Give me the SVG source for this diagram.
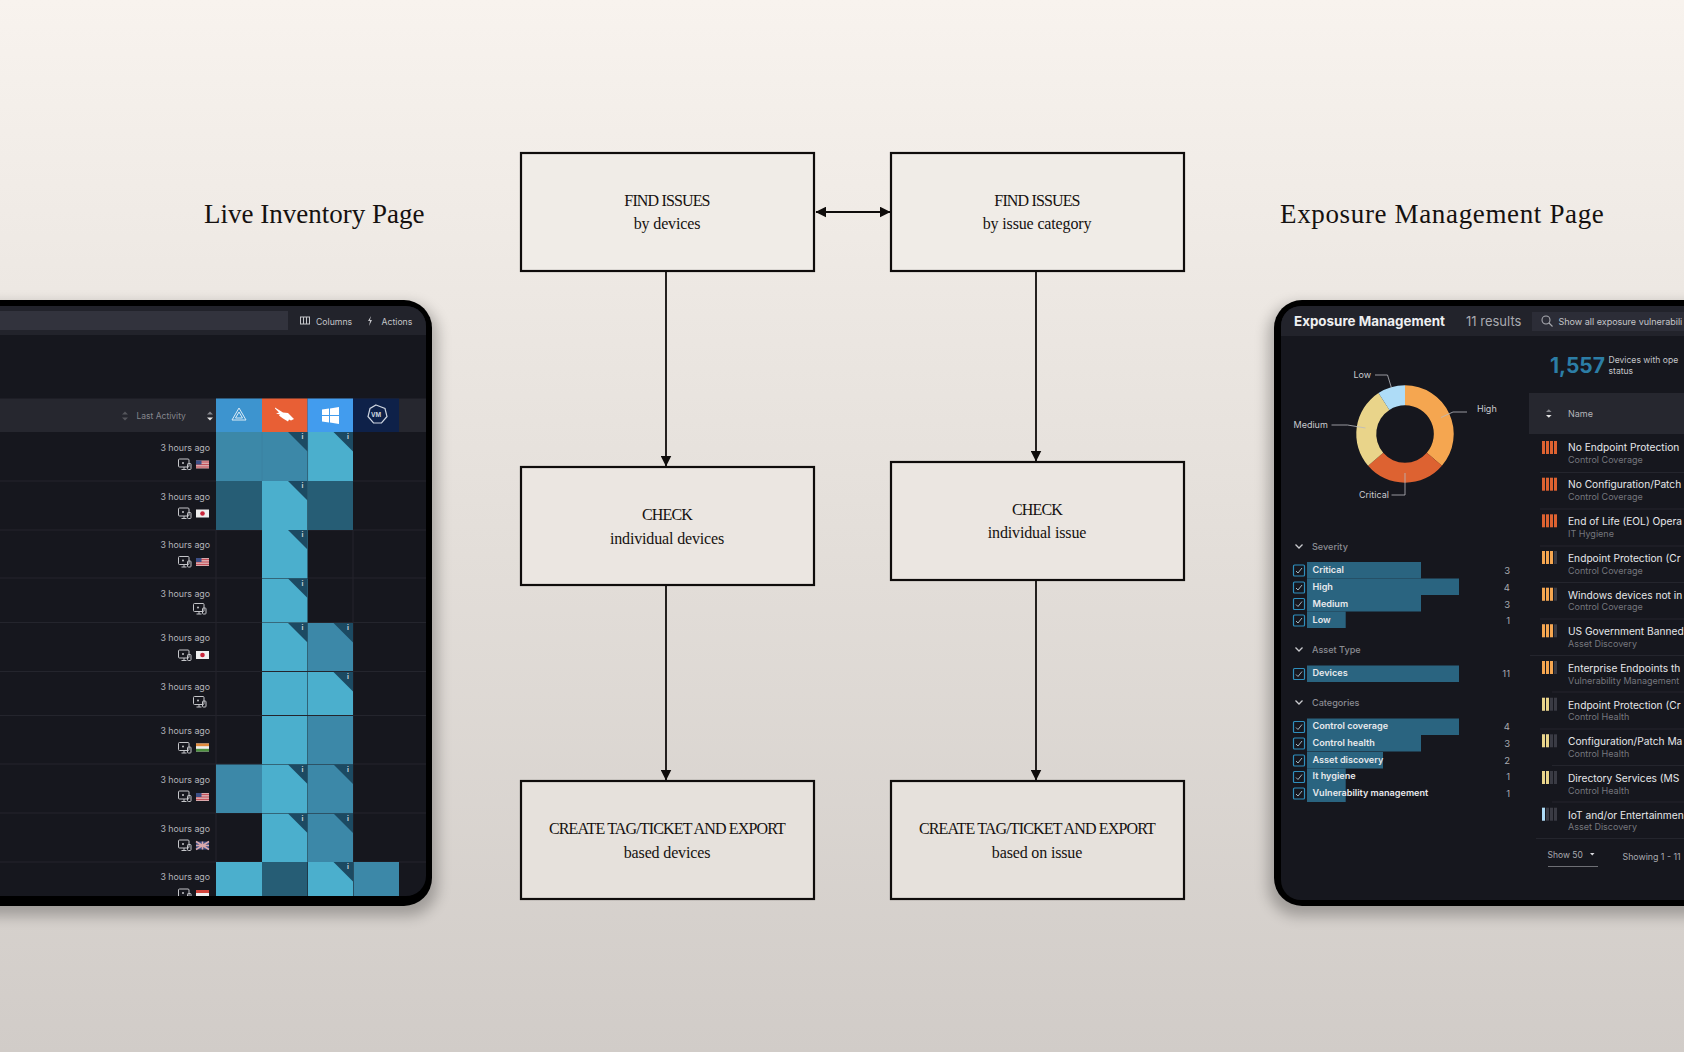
<svg xmlns="http://www.w3.org/2000/svg" width="1684" height="1052" viewBox="0 0 1684 1052">
<style>
.s{font-family:"Liberation Serif",serif;fill:#15110f}
.h{font-size:27px}
.b{font-size:16px;text-anchor:middle}
.c{letter-spacing:-.85px}
.lc{letter-spacing:-.15px}
.box{stroke:#0f0c0b;stroke-width:2.2}
.ln{stroke:#0f0c0b;stroke-width:1.8;fill:none}
.u{font-family:Inter,"Liberation Sans",sans-serif}
.ago{font-size:8.800px;fill:#b4b5ba;text-anchor:end}
.l{fill:#4bafcd}.m{fill:#3c88a8}.d{fill:#265d75}
.tag{fill:#1c4a62}
.i{font-size:7px;font-weight:700;fill:#c9d3d9;text-anchor:middle}
.sep{stroke:#24252d;stroke-width:1}
.cs{stroke:#3a7f9c;stroke-width:.8;opacity:.7}
.fh{font-size:9.100px;fill:#8b8c92;font-weight:500}
.ft{font-size:9.100px;fill:#e8e9ec;font-weight:600}
.fn{font-size:9.500px;fill:#a9aab0;text-anchor:end}
.bar{fill:#2a6480}
.cb{fill:none;stroke:#2f8fbd;stroke-width:1.2}
.ck{fill:none;stroke:#9fb7c4;stroke-width:1}
.t1{font-size:10.200px;fill:#e6e7ea;font-weight:400}
.t2{font-size:9px;fill:#75767d}
.lab{font-size:9px;fill:#c9cace}
.lead{fill:none;stroke:#b9babf;stroke-width:.8}
.chev{fill:none;stroke:#c9cace;stroke-width:1.3}
.icon{fill:none;stroke:#c4c5c9;stroke-width:1}
</style>
<defs>
<linearGradient id="bg" x1="0" y1="0" x2="0" y2="1"><stop offset="0" stop-color="#f8f3ee"/><stop offset=".5" stop-color="#e4dfda"/><stop offset="1" stop-color="#d1ccc8"/></linearGradient>
<filter id="shadow" x="-20%" y="-20%" width="140%" height="140%"><feGaussianBlur stdDeviation="7"/></filter>
<clipPath id="lc"><rect x="-40" y="306" width="466" height="590" rx="20"/></clipPath>
<clipPath id="rc"><rect x="1281" y="306" width="440" height="594" rx="20"/></clipPath>
<marker id="ah" viewBox="0 0 10 10" refX="9.500" refY="5" markerUnits="userSpaceOnUse" markerWidth="11" markerHeight="11" orient="auto-start-reverse"><path d="M0 0L10 5L0 10Z" fill="#0f0c0b"/></marker>
<g id="dev"><rect x="0" y="0" width="10.500" height="8" rx="1" class="icon"/><path d="M3 10.500h5M5.500 8v2.500" class="icon"/><circle cx="4.500" cy="4" r="1" fill="#c4c5c9"/><rect x="9" y="4.500" width="3.500" height="6" rx=".8" class="icon" fill="#16171e"/></g>
<g id="us"><rect width="13" height="8" fill="#d9a8ab"/><path d="M0 1.500h13M0 4h13M0 6.500h13" stroke="#c4515a" stroke-width="1"/><rect width="5.500" height="4" fill="#3c4f86"/></g>
<g id="jp"><rect width="13" height="8" fill="#eeeeee"/><circle cx="6.500" cy="4" r="2.300" fill="#c8253a"/></g>
<g id="tag"><path d="M-19.500 0H0V19.500Z" class="tag"/><text x="-5" y="7" class="u i">i</text></g>
<g id="bb"><rect x="0" y="0" width="3" height="13"/><rect x="4" y="0" width="3" height="13"/><rect x="8" y="0" width="3" height="13"/><rect x="12" y="0" width="3" height="13"/></g>
</defs>
<rect width="1684" height="1052" fill="url(#bg)"/>

<g id="title-live"><text x="204" y="223" class="s h">Live Inventory Page</text></g>
<g id="title-exposure"><text x="1280" y="223" class="s h" letter-spacing=".65">Exposure Management Page</text></g>

<g id="live-inventory-panel">
<rect x="-40" y="304" width="478" height="612" rx="30" fill="#000" opacity=".25" filter="url(#shadow)"/>
<rect x="-40" y="300" width="472" height="606" rx="28" fill="#000"/>
<rect x="-40" y="306" width="466" height="590" rx="20" fill="#16171e"/>
<g clip-path="url(#lc)">
<rect x="-40" y="306" width="466" height="29" fill="#22232b"/>
<rect x="-40" y="311" width="328" height="19" fill="#32333d"/>
<g class="icon"><rect x="300.500" y="317" width="9" height="7"/><path d="M303.500 317v7M306.500 317v7"/></g>
<text x="316" y="324.500" class="u" font-size="8.700" fill="#c4c5c9">Columns</text>
<path d="M371 316l-3 5h2l-1 5 3-6h-2z" fill="#c4c5c9"/>
<text x="381.500" y="324.500" class="u" font-size="8.700" fill="#c4c5c9">Actions</text>
<rect x="-40" y="398.500" width="466" height="33.500" fill="#26272f"/>
<path d="M122 414.500l3-3 3 3zM122 417.500l3 3 3-3z" fill="#55565c"/>
<text x="136.500" y="419" class="u" font-size="8.500" fill="#85868c">Last Activity</text>
<path d="M207 414.500l3-3 3 3z" fill="#85868c"/><path d="M207 417.500l3 3 3-3z" fill="#e6e6e6"/>
<rect x="216" y="398.500" width="46" height="33.500" fill="#3d94cf"/>
<rect x="262" y="398.500" width="45.500" height="33.500" fill="#e85f35"/>
<rect x="307.500" y="398.500" width="45.500" height="33.500" fill="#429cee"/>
<rect x="353" y="398.500" width="46" height="33.500" fill="#0e2149"/>
<path d="M239 408l7 12h-14z M239 412l3.500 6h-7z" fill="none" stroke="#dcebf6" stroke-width="1"/>
<path d="M275 407.500l8 5 5 .5 6 6-3 1.500-2-1-1 2-5-3-4-3 1-1-4-1 3-1-4-4z" fill="#fff"/>
<path d="M322 409.500l7-1v6.500h-7zM330 408.500l9-1.500v8h-9zM322 416h7v6.500l-7-1zM330 416h9v8l-9-1.500z" fill="#fff"/>
<path d="M376 405l9 3.500 2 8-5.500 6.500h-8l-5.500-6.500 2-8z" fill="none" stroke="#cdd4df" stroke-width="1.200"/>
<text x="376" y="416.500" class="u" text-anchor="middle" font-size="6" font-weight="700" fill="#cdd4df">VM</text>

<g>
<path d="M-40 481H426M-40 530H426M-40 578H426M-40 622.500H426M-40 671.500H426M-40 715.500H426M-40 764H426M-40 813H426M-40 862H426" class="sep"/>
<path d="M216 530V862M353 530V862" class="sep"/>
</g>

<g id="cells">
<rect x="216" y="432" width="46" height="49" class="m"/><rect x="262" y="432" width="45.500" height="49" class="m"/><rect x="308" y="432" width="45" height="49" class="l"/>
<rect x="216" y="481" width="46" height="49" class="d"/><rect x="262" y="481" width="45.500" height="49" class="l"/><rect x="308" y="481" width="45" height="49" class="d"/>
<rect x="262" y="530" width="45.500" height="48" class="l"/>
<rect x="262" y="578.500" width="45.500" height="44" class="l"/>
<rect x="262" y="623" width="45.500" height="48" class="l"/><rect x="308" y="623" width="45" height="48" class="m"/>
<rect x="262" y="672" width="45.500" height="43" class="l"/><rect x="308" y="672" width="45" height="43" class="l"/>
<rect x="262" y="716" width="45.500" height="48" class="l"/><rect x="308" y="716" width="45" height="48" class="m"/>
<rect x="216" y="764.500" width="46" height="48.500" class="m"/><rect x="262" y="764.500" width="45.500" height="48.500" class="l"/><rect x="308" y="764.500" width="45" height="48.500" class="m"/>
<rect x="262" y="813.500" width="45.500" height="48.500" class="l"/><rect x="308" y="813.500" width="45" height="48.500" class="m"/>
<rect x="216" y="862" width="46" height="34" class="l"/><rect x="262" y="862" width="45.500" height="34" class="d"/><rect x="308" y="862" width="45" height="34" class="l"/><rect x="353.500" y="862" width="45.500" height="34" class="m"/>
<path d="M262 432V481M307.700 432V481" class="cs"/>
</g>
<use href="#tag" x="307.500" y="432"/><use href="#tag" x="353" y="432"/>
<use href="#tag" x="307.500" y="481"/>
<use href="#tag" x="307.500" y="530"/>
<use href="#tag" x="307.500" y="578.500"/>
<use href="#tag" x="307.500" y="623"/><use href="#tag" x="353" y="623"/>
<use href="#tag" x="353" y="672"/>
<use href="#tag" x="307.500" y="764.500"/><use href="#tag" x="353" y="764.500"/>
<use href="#tag" x="307.500" y="813.500"/><use href="#tag" x="353" y="813.500"/>
<use href="#tag" x="353" y="862"/>

<g class="u">
<text x="210" y="451" class="ago">3 hours ago</text>
<text x="210" y="499.500" class="ago">3 hours ago</text>
<text x="210" y="548" class="ago">3 hours ago</text>
<text x="210" y="597" class="ago">3 hours ago</text>
<text x="210" y="641" class="ago">3 hours ago</text>
<text x="210" y="690" class="ago">3 hours ago</text>
<text x="210" y="734" class="ago">3 hours ago</text>
<text x="210" y="782.500" class="ago">3 hours ago</text>
<text x="210" y="831.500" class="ago">3 hours ago</text>
<text x="210" y="880" class="ago">3 hours ago</text>
</g>
<use href="#dev" x="178.500" y="459"/><use href="#us" x="196" y="460.500"/>
<use href="#dev" x="178.500" y="508"/><use href="#jp" x="196" y="509.500"/>
<use href="#dev" x="178.500" y="556.500"/><use href="#us" x="196" y="558"/>
<use href="#dev" x="193.500" y="603.500"/>
<use href="#dev" x="178.500" y="650"/><use href="#jp" x="196" y="651"/>
<use href="#dev" x="193.500" y="696.500"/>
<use href="#dev" x="178.500" y="742.500"/>
<g transform="translate(196 743.500)"><rect width="13" height="8" fill="#eee"/><rect width="13" height="2.700" fill="#e08a3c"/><rect y="5.300" width="13" height="2.700" fill="#4d8f3f"/></g>
<use href="#dev" x="178.500" y="791"/><use href="#us" x="196" y="793"/>
<use href="#dev" x="178.500" y="840"/>
<g transform="translate(196 841.500)"><rect width="13" height="8" fill="#3c4f86"/><path d="M0 0L13 8M13 0L0 8M6.500 0V8M0 4H13" stroke="#d9a8ab" stroke-width="1.500"/></g>
<use href="#dev" x="178.500" y="889"/>
<g transform="translate(196 890)"><rect width="13" height="3" fill="#d2453c"/><rect y="3" width="13" height="5" fill="#eee"/></g>
</g>
</g>

<g id="connectors">
<path d="M666 272V466" class="ln" marker-end="url(#ah)"/>
<path d="M1036 272V461" class="ln" marker-end="url(#ah)"/>
<path d="M666 586V780" class="ln" marker-end="url(#ah)"/>
<path d="M1036 581V780" class="ln" marker-end="url(#ah)"/>
<path d="M816 212H890" class="ln" style="stroke-width:2.200" marker-start="url(#ah)" marker-end="url(#ah)"/>
</g>

<g id="node-find-devices"><rect x="521" y="153" width="293" height="118" fill="#f0ece7" class="box"/><text x="667" y="205.500" class="s b c">FIND ISSUES</text><text x="667" y="229" class="s b lc">by devices</text></g>
<g id="node-find-category"><rect x="891" y="153" width="293" height="118" fill="#f0ece7" class="box"/><text x="1037" y="205.500" class="s b c">FIND ISSUES</text><text x="1037" y="229" class="s b lc">by issue category</text></g>
<g id="node-check-devices"><rect x="521" y="467" width="293" height="118" fill="#ebe6e1" class="box"/><text x="667" y="520" class="s b c">CHECK</text><text x="667" y="543.500" class="s b lc">individual devices</text></g>
<g id="node-check-issue"><rect x="891" y="462" width="293" height="118" fill="#ebe6e1" class="box"/><text x="1037" y="514.500" class="s b c">CHECK</text><text x="1037" y="538" class="s b lc">individual issue</text></g>
<g id="node-create-devices"><rect x="521" y="781" width="293" height="118" fill="#e6e1dc" class="box"/><text x="667" y="833.500" class="s b c">CREATE TAG/TICKET AND EXPORT</text><text x="667" y="857.500" class="s b lc">based devices</text></g>
<g id="node-create-issue"><rect x="891" y="781" width="293" height="118" fill="#e6e1dc" class="box"/><text x="1037" y="833.500" class="s b c">CREATE TAG/TICKET AND EXPORT</text><text x="1037" y="857.500" class="s b lc">based on issue</text></g>

<g id="exposure-panel">
<rect x="1268" y="304" width="470" height="612" rx="30" fill="#000" opacity=".25" filter="url(#shadow)"/>
<rect x="1274" y="300" width="450" height="606" rx="28" fill="#000"/>
<rect x="1281" y="306" width="440" height="594" rx="20" fill="#16171e"/>
<g clip-path="url(#rc)" class="u">
<rect x="1281" y="306" width="440" height="30" fill="#22232b"/>
<text x="1294" y="326" font-size="13.400" font-weight="700" fill="#eeeff1">Exposure Management</text>
<text x="1466" y="326" font-size="13" fill="#a9aab0">11 results</text>
<rect x="1532" y="312" width="170" height="19" fill="#2c2d37"/>
<circle cx="1546" cy="320" r="4" fill="none" stroke="#a9aab0" stroke-width="1.100"/><path d="M1549 323l3.500 3.500" stroke="#a9aab0" stroke-width="1.100"/>
<text x="1558.500" y="325" font-size="9" fill="#c4c5c9">Show all exposure vulnerabili</text>
<text x="1550" y="373" font-size="21" font-weight="700" fill="#2c7ea6">1,557</text>
<text x="1608.500" y="363" font-size="8.600" fill="#c4c5c9">Devices with ope</text>
<text x="1608.500" y="374" font-size="8.600" fill="#c4c5c9">status</text>

<g id="donut">
<path d="M1405 385.300A48.700 48.700 0 0 1 1441.900 465.800L1426.800 452.800A28.700 28.700 0 0 0 1405 405.300Z" fill="#f5a650"/>
<path d="M1441.900 465.800A48.700 48.700 0 0 1 1368.100 465.800L1383.200 452.800A28.700 28.700 0 0 0 1426.800 452.800Z" fill="#dd6231"/>
<path d="M1368.100 465.800A48.700 48.700 0 0 1 1378.500 393.100L1389.400 409.900A28.700 28.700 0 0 0 1383.200 452.800Z" fill="#e9d48a"/>
<path d="M1378.500 393.100A48.700 48.700 0 0 1 1405 385.300L1405 405.300A28.700 28.700 0 0 0 1389.400 409.900Z" fill="#aedcf7"/>
<path d="M1375 375h12.500l4 13" class="lead"/>
<path d="M1441 417.500l12-5.500h14" class="lead"/>
<path d="M1331.500 425l16 0 18 3" class="lead"/>
<path d="M1405 473v22h-13.500" class="lead"/>
<text x="1353.500" y="378" class="lab">Low</text>
<text x="1477" y="412" class="lab">High</text>
<text x="1293.500" y="428" class="lab">Medium</text>
<text x="1359" y="498" class="lab">Critical</text>
</g>

<g id="facets">
<path d="M1295.500 544.500l3.500 3.500 3.500-3.500" class="chev"/><text x="1312" y="550" class="fh">Severity</text>
<rect x="1307" y="562" width="114" height="16.500" class="bar"/><rect x="1307" y="578.500" width="152" height="16.500" class="bar"/><rect x="1307" y="595" width="114" height="16.500" class="bar"/><rect x="1307" y="611.500" width="38.700" height="16.500" class="bar"/>
<rect x="1293.500" y="565" width="11" height="11" rx="1" class="cb"/><path d="M1296 571l2 2 4-5" class="ck"/>
<rect x="1293.500" y="582" width="11" height="11" rx="1" class="cb"/><path d="M1296 588l2 2 4-5" class="ck"/>
<rect x="1293.500" y="598.500" width="11" height="11" rx="1" class="cb"/><path d="M1296 604.500l2 2 4-5" class="ck"/>
<rect x="1293.500" y="615" width="11" height="11" rx="1" class="cb"/><path d="M1296 621l2 2 4-5" class="ck"/>
<text x="1312.500" y="573" class="ft">Critical</text><text x="1312.500" y="589.500" class="ft">High</text><text x="1312.500" y="606.500" class="ft">Medium</text><text x="1312.500" y="623" class="ft">Low</text>
<text x="1510" y="574" class="fn">3</text><text x="1510" y="591" class="fn">4</text><text x="1510" y="608" class="fn">3</text><text x="1510" y="624" class="fn">1</text>

<path d="M1295.500 647.500l3.500 3.500 3.500-3.500" class="chev"/><text x="1312" y="653" class="fh">Asset Type</text>
<rect x="1307" y="665.500" width="152" height="16.500" class="bar"/>
<rect x="1293.500" y="668.500" width="11" height="11" rx="1" class="cb"/><path d="M1296 674.500l2 2 4-5" class="ck"/>
<text x="1312.500" y="676" class="ft">Devices</text><text x="1510" y="677" class="fn">11</text>

<path d="M1295.500 700.500l3.500 3.500 3.500-3.500" class="chev"/><text x="1312" y="706" class="fh">Categories</text>
<rect x="1307" y="718.500" width="152" height="16.500" class="bar"/><rect x="1307" y="735" width="114" height="16.500" class="bar"/><rect x="1307" y="752" width="76" height="16.500" class="bar"/><rect x="1307" y="768.500" width="38.700" height="33.500" class="bar"/>
<rect x="1293.500" y="721.500" width="11" height="11" rx="1" class="cb"/><path d="M1296 727.500l2 2 4-5" class="ck"/>
<rect x="1293.500" y="738" width="11" height="11" rx="1" class="cb"/><path d="M1296 744l2 2 4-5" class="ck"/>
<rect x="1293.500" y="755" width="11" height="11" rx="1" class="cb"/><path d="M1296 761l2 2 4-5" class="ck"/>
<rect x="1293.500" y="771.500" width="11" height="11" rx="1" class="cb"/><path d="M1296 777.500l2 2 4-5" class="ck"/>
<rect x="1293.500" y="788" width="11" height="11" rx="1" class="cb"/><path d="M1296 794l2 2 4-5" class="ck"/>
<text x="1312.500" y="729" class="ft">Control coverage</text><text x="1312.500" y="745.500" class="ft">Control health</text><text x="1312.500" y="762.500" class="ft">Asset discovery</text><text x="1312.500" y="779" class="ft">It hygiene</text><text x="1312.500" y="796" class="ft">Vulnerability management</text>
<text x="1510" y="730" class="fn">4</text><text x="1510" y="747" class="fn">3</text><text x="1510" y="764" class="fn">2</text><text x="1510" y="780" class="fn">1</text><text x="1510" y="797" class="fn">1</text>
</g>

<g id="list">
<rect x="1529" y="393" width="200" height="41" fill="#26272f"/>
<path d="M1546 412l2.800-2.800 2.800 2.800z" fill="#85868c"/><path d="M1546 415l2.800 2.800 2.800-2.800z" fill="#e6e6e6"/>
<text x="1568" y="417" font-size="9" fill="#b4b5ba">Name</text>
<path d="M1540 472.500H1700M1540 509H1700M1540 546H1700M1540 582.500H1700M1540 619H1700M1530 655.500H1700M1552 692H1700M1540 729H1700M1552 765.500H1700M1552 802H1700M1536 838.500H1700" class="sep"/>
<g fill="#3a3b44">
<use href="#bb" x="1542" y="551"/><use href="#bb" x="1542" y="587.700"/><use href="#bb" x="1542" y="624.300"/><use href="#bb" x="1542" y="661"/><use href="#bb" x="1542" y="697.700"/><use href="#bb" x="1542" y="734.300"/><use href="#bb" x="1542" y="771"/><use href="#bb" x="1542" y="807.700"/>
</g>
<g fill="#dd6231"><use href="#bb" x="1542" y="441"/><use href="#bb" x="1542" y="477.700"/><use href="#bb" x="1542" y="514.300"/></g>
<path fill="#f5a650" d="M1542 551h3v13h-3zM1546 551h3v13h-3zM1550 551h3v13h-3zM1542 587.700h3v13h-3zM1546 587.700h3v13h-3zM1550 587.700h3v13h-3zM1542 624.300h3v13h-3zM1546 624.300h3v13h-3zM1550 624.300h3v13h-3zM1542 661h3v13h-3zM1546 661h3v13h-3zM1550 661h3v13h-3z"/>
<path d="M1542 697.700h3v13h-3zM1546 697.700h3v13h-3zM1542 734.300h3v13h-3zM1546 734.300h3v13h-3zM1542 771h3v13h-3zM1546 771h3v13h-3z" fill="#e9d48a"/>
<path d="M1542 807.700h3v13h-3z" fill="#aedcf7"/>
<text x="1568" y="451" class="t1">No Endpoint Protection</text><text x="1568" y="463" class="t2">Control Coverage</text>
<text x="1568" y="488" class="t1">No Configuration/Patch</text><text x="1568" y="500" class="t2">Control Coverage</text>
<text x="1568" y="525" class="t1">End of Life (EOL) Opera</text><text x="1568" y="536.500" class="t2">IT Hygiene</text>
<text x="1568" y="562" class="t1">Endpoint Protection (Cr</text><text x="1568" y="573.500" class="t2">Control Coverage</text>
<text x="1568" y="598.500" class="t1">Windows devices not in</text><text x="1568" y="610" class="t2">Control Coverage</text>
<text x="1568" y="635" class="t1">US Government Banned</text><text x="1568" y="646.500" class="t2">Asset Discovery</text>
<text x="1568" y="672" class="t1">Enterprise Endpoints th</text><text x="1568" y="683.500" class="t2">Vulnerability Management</text>
<text x="1568" y="708.500" class="t1">Endpoint Protection (Cr</text><text x="1568" y="720" class="t2">Control Health</text>
<text x="1568" y="745" class="t1">Configuration/Patch Ma</text><text x="1568" y="756.500" class="t2">Control Health</text>
<text x="1568" y="782" class="t1">Directory Services (MS</text><text x="1568" y="793.500" class="t2">Control Health</text>
<text x="1568" y="818.500" class="t1">IoT and/or Entertainmen</text><text x="1568" y="830" class="t2">Asset Discovery</text>
<text x="1547.500" y="858" font-size="8.500" fill="#a9aab0">Show 50</text>
<path d="M1590 853h4.500l-2.200 2.500z" fill="#d9dade"/>
<path d="M1548 866.500H1598" stroke="#85868c" stroke-width=".8"/>
<text x="1622.500" y="860" font-size="8.800" fill="#a9aab0">Showing 1 - 11</text>
</g>
</g>
</g>
</svg>
